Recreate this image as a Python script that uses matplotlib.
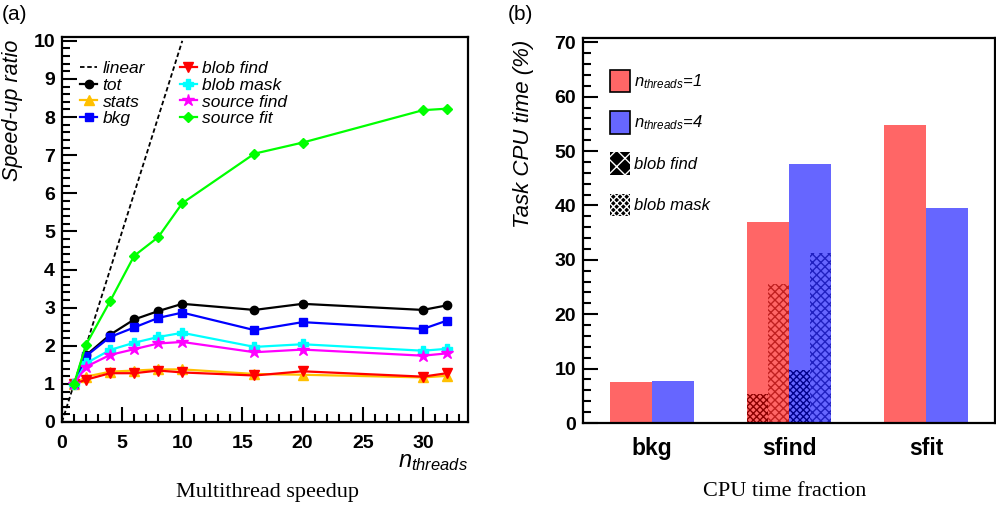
import matplotlib
matplotlib.use("Agg")
import matplotlib.pyplot as plt
from matplotlib.patches import Patch
from matplotlib.ticker import MultipleLocator
import numpy as np

plt.rcParams['font.family'] = ['Liberation Sans', 'DejaVu Sans']
plt.rcParams['mathtext.fontset'] = 'custom'
plt.rcParams['mathtext.it'] = 'Liberation Sans:italic'
plt.rcParams['mathtext.rm'] = 'Liberation Sans:italic'
plt.rcParams['hatch.linewidth'] = 1.0

# ---------------- data: panel (a) ----------------
nthreads = [1, 2, 4, 6, 8, 10, 16, 20, 30, 32]
tot = [1.0, 1.75, 2.29, 2.69, 2.91, 3.10, 2.94, 3.10, 2.94, 3.06]
stats = [1.0, 1.19, 1.32, 1.35, 1.38, 1.38, 1.26, 1.24, 1.17, 1.21]
bkg = [1.0, 1.73, 2.23, 2.48, 2.73, 2.87, 2.41, 2.62, 2.44, 2.66]
blob_find = [1.0, 1.11, 1.28, 1.28, 1.35, 1.30, 1.22, 1.33, 1.19, 1.28]
blob_mask = [1.0, 1.54, 1.89, 2.08, 2.23, 2.34, 1.97, 2.04, 1.87, 1.92]
source_find = [1.0, 1.45, 1.76, 1.91, 2.06, 2.10, 1.83, 1.90, 1.74, 1.80]
source_fit = [1.0, 2.03, 3.17, 4.36, 4.85, 5.74, 7.04, 7.33, 8.18, 8.22]
linear_x = [0, 10]

# ---------------- data: panel (b) ----------------
tasks = ['bkg', 'sfind', 'sfit']
cpu_n1 = [7.5, 36.9, 54.8]
cpu_n4 = [7.7, 47.6, 39.5]
blobmask_n1 = 5.4     # sfind sub-part (dense pattern)
blobfind_n1 = 25.5    # sfind sub-part
blobmask_n4 = 9.7
blobfind_n4 = 31.2

fig = plt.figure(figsize=(9.96, 5.05), dpi=100)
W, H = 996, 505

def ax_rect(l, r, t, b):
    return [l / W, 1 - b / H, (r - l) / W, (b - t) / H]

# ---------------- panel (a) ----------------
ax1 = fig.add_axes(ax_rect(62, 468, 37, 422))
ax1.plot(linear_x, linear_x, ls=(0, (2.5, 1.5)), color='black', lw=1.3, label='linear')
series = [
    (tot, 'black', 'o', 'tot', 6),
    (stats, '#FFC000', '^', 'stats', 7),
    (bkg, '#0000FF', 's', 'bkg', 6),
    (blob_find, '#FF0000', 'v', 'blob find', 7),
    (blob_mask, '#00FFFF', 'P', 'blob mask', 7),
    (source_find, '#FF00FF', '*', 'source find', 9),
    (source_fit, '#00FF00', 'D', 'source fit', 5),
]
for vals, c, m, lab, ms in series:
    ax1.plot(nthreads, vals, color=c, marker=m, ms=ms, lw=1.6, label=lab,
             markeredgecolor=c)

ax1.set_xlim(0, 33.75)
ax1.set_ylim(0, 10.1)
ax1.xaxis.set_major_locator(MultipleLocator(5))
ax1.xaxis.set_minor_locator(MultipleLocator(1))
ax1.yaxis.set_major_locator(MultipleLocator(1))
ax1.yaxis.set_minor_locator(MultipleLocator(0.2))
ax1.tick_params(which='both', direction='in', top=False, right=False, width=1.5)
ax1.tick_params(which='major', length=11, labelsize=14)
ax1.tick_params(axis='x', which='major', pad=9)
ax1.tick_params(axis='y', which='major', pad=5)
ax1.tick_params(which='minor', length=6)
for lab in ax1.get_xticklabels() + ax1.get_yticklabels():
    lab.set_fontweight('bold')
for s in ax1.spines.values():
    s.set_linewidth(1.6)

ax1.legend(ncol=2, loc='upper left', bbox_to_anchor=(0.027, 0.955),
           frameon=False, prop={'style': 'italic', 'size': 12.5},
           labelspacing=0.08, handlelength=1.0, handletextpad=0.3,
           columnspacing=2.0, borderaxespad=0)

fig.text(2 / W, 1 - 15 / H, '(a)', fontsize=15, ha='left', va='center')
fig.text(13 / W, 1 - 40 / H, 'Speed-up ratio', fontsize=15.5, style='italic',
         rotation=90, ha='center', va='top')
fig.text(468 / W, 1 - 462 / H, r'$n_{threads}$', fontsize=17, ha='right', va='center')
fig.text(267 / W, 1 - 492 / H, 'Multithread speedup', fontsize=16,
         family='Liberation Serif', ha='center', va='center')

# ---------------- panel (b) ----------------
ax2 = fig.add_axes(ax_rect(583, 995, 38, 423))
x = np.arange(len(tasks))
bw = 0.305
ax2.bar(x - bw / 2, cpu_n1, width=bw, color='#FF6666', linewidth=0)
ax2.bar(x + bw / 2, cpu_n4, width=bw, color='#6666FF', linewidth=0)
i = tasks.index('sfind')
# sub-parts of sfind
ax2.bar(i - 3 * bw / 4, blobmask_n1, width=bw / 2, color='#FF6666',
        edgecolor='#8B0000', hatch='xxxxx', linewidth=0)
ax2.bar(i - bw / 4, blobfind_n1, width=bw / 2, color='#FF6666',
        edgecolor='#C02020', hatch='xxxx', linewidth=0)
ax2.bar(i + bw / 4, blobmask_n4, width=bw / 2, color='#6666FF',
        edgecolor='#00008B', hatch='xxxxx', linewidth=0)
ax2.bar(i + 3 * bw / 4, blobfind_n4, width=bw / 2, color='#6666FF',
        edgecolor='#2020C0', hatch='xxxx', linewidth=0)

ax2.set_xlim(-0.5, 2.5)
ax2.set_ylim(0, 70.8)
ax2.set_xticks(x)
ax2.set_xticklabels(tasks, fontsize=16.5, fontweight='bold')
ax2.tick_params(axis='x', length=0, pad=10)
ax2.yaxis.set_major_locator(MultipleLocator(10))
ax2.yaxis.set_minor_locator(MultipleLocator(2))
ax2.tick_params(axis='y', which='both', direction='in', right=False, width=1.5)
ax2.tick_params(axis='y', which='major', length=11, labelsize=14, pad=5)
ax2.tick_params(axis='y', which='minor', length=6)
for lab in ax2.get_yticklabels():
    lab.set_fontweight('bold')
for s in ax2.spines.values():
    s.set_linewidth(1.6)

handles = [
    Patch(facecolor='#FF6666', edgecolor='black', linewidth=1.2),
    Patch(facecolor='#6666FF', edgecolor='black', linewidth=1.2),
    Patch(facecolor='black', edgecolor='white', hatch='xx', linewidth=0),
    Patch(facecolor='black', edgecolor='white', hatch='xxxxx', linewidth=0),
]
labels = [r'$n_{threads}$=1', r'$n_{threads}$=4', 'blob find', 'blob mask']
ax2.legend(handles, labels, loc='upper left', bbox_to_anchor=(0.05, 0.935),
           frameon=False, prop={'style': 'italic', 'size': 12},
           handlelength=1.2, handleheight=1.7, labelspacing=1.13,
           handletextpad=0.25, borderaxespad=0)

fig.text(520 / W, 1 - 15 / H, '(b)', fontsize=15, ha='center', va='center')
fig.text(523 / W, 1 - 40 / H, 'Task CPU time (%)', fontsize=16, style='italic',
         rotation=90, ha='center', va='top')
fig.text(785 / W, 1 - 492 / H, 'CPU time fraction', fontsize=16,
         family='Liberation Serif', ha='center', va='center')

fig.savefig('out.png', dpi=100)
